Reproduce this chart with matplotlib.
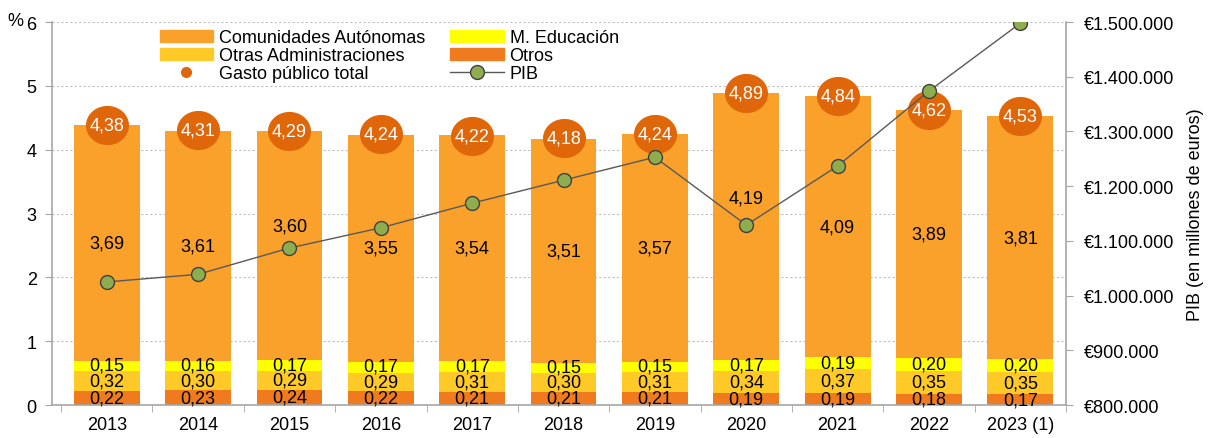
import matplotlib
matplotlib.use("Agg")
import matplotlib.pyplot as plt
import numpy as np
from matplotlib.lines import Line2D
from matplotlib.patches import Patch
from matplotlib.path import Path

plt.rcParams['font.family'] = ['Liberation Sans', 'DejaVu Sans']

years = ["2013", "2014", "2015", "2016", "2017", "2018", "2019", "2020", "2021", "2022", "2023 (1)"]
otros = [0.22, 0.23, 0.24, 0.22, 0.21, 0.21, 0.21, 0.19, 0.19, 0.18, 0.17]
otras_adm = [0.32, 0.30, 0.29, 0.29, 0.31, 0.30, 0.31, 0.34, 0.37, 0.35, 0.35]
m_educacion = [0.15, 0.16, 0.17, 0.17, 0.17, 0.15, 0.15, 0.17, 0.19, 0.20, 0.20]
ccaa = [3.69, 3.61, 3.60, 3.55, 3.54, 3.51, 3.57, 4.19, 4.09, 3.89, 3.81]
gasto_total = [4.38, 4.31, 4.29, 4.24, 4.22, 4.18, 4.24, 4.89, 4.84, 4.62, 4.53]
pib = [1025000, 1039000, 1087000, 1124000, 1169000, 1211000, 1253000, 1129000, 1237000, 1374000, 1498000]
# label offsets for CCAA labels (to avoid the PIB line)
ccaa_label_shift = [0, 0, 0.30, 0, 0, 0, 0, 0.45, 0, 0, 0]

c_ccaa = "#F9A12B"
c_edu = "#FFFF00"
c_otras = "#FFC928"
c_otros = "#F07B1E"
c_total = "#E0660A"
c_pib = "#8EAD4E"
grid_c = "#BFBFBF"
spine_c = "#A6A6A6"

fig = plt.figure(figsize=(12.08, 4.39), dpi=100)
ax = fig.add_axes([0.043, 0.075, 0.8395, 0.8725])
x = np.arange(len(years))
w = 0.72
fs = 13

b0 = np.zeros(len(years))
ax.bar(x, otros, w, bottom=b0, color=c_otros, zorder=2)
b1 = b0 + np.array(otros)
ax.bar(x, otras_adm, w, bottom=b1, color=c_otras, zorder=2)
b2 = b1 + np.array(otras_adm)
ax.bar(x, m_educacion, w, bottom=b2, color=c_edu, zorder=2)
b3 = b2 + np.array(m_educacion)
ax.bar(x, ccaa, w, bottom=b3, color=c_ccaa, zorder=2)

fmt = lambda v: f"{v:.2f}".replace(".", ",")
for i in range(len(years)):
    ax.text(x[i], b0[i] + otros[i] / 2, fmt(otros[i]), ha="center", va="center", fontsize=fs, zorder=5)
    ax.text(x[i], b1[i] + otras_adm[i] / 2, fmt(otras_adm[i]), ha="center", va="center", fontsize=fs, zorder=5)
    ax.text(x[i], b2[i] + m_educacion[i] / 2 + 0.01, fmt(m_educacion[i]), ha="center", va="center", fontsize=fs, zorder=5)
    ax.text(x[i], b3[i] + ccaa[i] / 2 + ccaa_label_shift[i], fmt(ccaa[i]), ha="center", va="center", fontsize=fs, zorder=5)

t = np.linspace(0, 2 * np.pi, 73)
ellipse = Path(np.column_stack([1.1 * np.cos(t), np.sin(t)]), closed=True)
ax.scatter(x, gasto_total, s=31 ** 2, marker=ellipse, color=c_total, zorder=4, linewidths=0)
for i in range(len(years)):
    ax.text(x[i], gasto_total[i], fmt(gasto_total[i]), ha="center", va="center", fontsize=fs, color="white", zorder=6)

ax.set_ylim(0, 6)
ax.set_xlim(-0.6, 10.5)
ax.set_yticks(range(0, 7))
ax.yaxis.grid(True, color=grid_c, linestyle=(0, (2, 2)), linewidth=0.8, zorder=0)
ax.set_axisbelow(True)
ax.set_xticks(x)
ax.set_xticklabels(years, fontsize=fs)
ax.set_xticks(np.arange(-0.5, 10.6, 1), minor=True)
ax.tick_params(axis="x", which="major", length=0, pad=8)
ax.tick_params(axis="x", which="minor", length=5, color=spine_c, direction="out")
ax.tick_params(axis="y", labelsize=fs, length=5, color=spine_c, direction="out", pad=6)
for s in ["top", "right"]:
    ax.spines[s].set_visible(False)
for s in ["left", "bottom"]:
    ax.spines[s].set_color(spine_c)
    ax.spines[s].set_linewidth(1.2)
fig.text(15 / 1208, 1 - 21 / 439, "%", fontsize=fs, ha="center", va="center")

ax2 = ax.twinx()
ax2.plot(x, pib, color="#595959", linewidth=1, marker="o", markersize=10,
         markerfacecolor=c_pib, markeredgecolor="#404040", markeredgewidth=1, zorder=7)
ax2.set_ylim(800000, 1500000)
ax2.set_yticks(np.arange(800000, 1500001, 100000))
ax2.set_yticklabels([f"€{v:,}".replace(",", ".") for v in np.arange(800000, 1500001, 100000)], fontsize=fs)
ax2.tick_params(axis="y", length=5, color=spine_c, direction="out", pad=8)
for s in ["top", "left", "bottom"]:
    ax2.spines[s].set_visible(False)
ax2.spines["right"].set_color(spine_c)
ax2.spines["right"].set_linewidth(1.2)
fig.text(1195 / 1208, 0.075 + 0.8725 / 2, "PIB (en millones de euros)", fontsize=fs,
         rotation=90, ha="center", va="center")

handles = [
    Patch(color=c_ccaa, label="Comunidades Autónomas"),
    Patch(color=c_otras, label="Otras Administraciones"),
    Line2D([], [], linestyle="none", marker="o", color=c_total, markersize=7, label="Gasto público total"),
    Patch(color=c_edu, label="M. Educación"),
    Patch(color=c_otros, label="Otros"),
    Line2D([], [], color="#595959", linewidth=1, marker="o", markersize=10, markerfacecolor=c_pib,
           markeredgecolor="#404040", label="PIB"),
]
leg = ax.legend(handles=handles, ncol=2, loc="upper left", bbox_to_anchor=(0.099, 1.0),
                frameon=False, fontsize=fs, handlelength=2.95, handleheight=0.7,
                labelspacing=0.05, columnspacing=1.4, handletextpad=0.33, borderaxespad=0)
leg.set_zorder(10)

fig.savefig("out.png", dpi=100)
